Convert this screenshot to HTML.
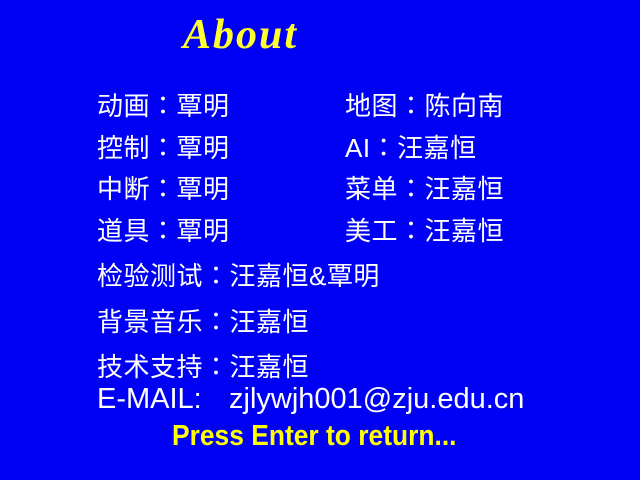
<!DOCTYPE html>
<html lang="ja"><head><meta charset="utf-8">
<style>
html,body{margin:0;padding:0}
body{width:640px;height:480px;background:#0000f4;position:relative;overflow:hidden;font-family:"Liberation Sans","Noto Sans CJK JP",sans-serif;color:#fff}
.t{position:absolute;font-size:26px;line-height:26px;white-space:nowrap;letter-spacing:0.5px}
.e{position:absolute;font-size:29px;line-height:29px;white-space:nowrap}
#title{position:absolute;left:183px;top:14px;font-family:"Liberation Serif",serif;font-style:italic;font-weight:bold;font-size:42px;line-height:42px;color:#ffff30;letter-spacing:2px}
#press{position:absolute;left:172px;top:422px;font-weight:bold;font-size:29px;line-height:29px;color:#ffff00;transform:scaleX(0.91);transform-origin:left top;white-space:nowrap}
</style></head><body>
<div id="title">About</div>
<div class="t" style="left:97px;top:93px">动画：覃明</div>
<div class="t" style="left:345px;top:93px">地图：陈向南</div>
<div class="t" style="left:97px;top:135px">控制：覃明</div>
<div class="t" style="left:345px;top:135px">AI：汪嘉恒</div>
<div class="t" style="left:97px;top:176px">中断：覃明</div>
<div class="t" style="left:345px;top:176px">菜单：汪嘉恒</div>
<div class="t" style="left:97px;top:218px">道具：覃明</div>
<div class="t" style="left:345px;top:218px">美工：汪嘉恒</div>
<div class="t" style="left:97px;top:263px">检验测试：汪嘉恒&amp;覃明</div>
<div class="t" style="left:97px;top:309px">背景音乐：汪嘉恒</div>
<div class="t" style="left:97px;top:354px">技术支持：汪嘉恒</div>
<div class="e" style="left:97px;top:385px">E-MAIL:</div>
<div class="e" style="left:229px;top:385px">zjlywjh001@zju.edu.cn</div>
<div id="press">Press Enter to return...</div>
</body></html>
